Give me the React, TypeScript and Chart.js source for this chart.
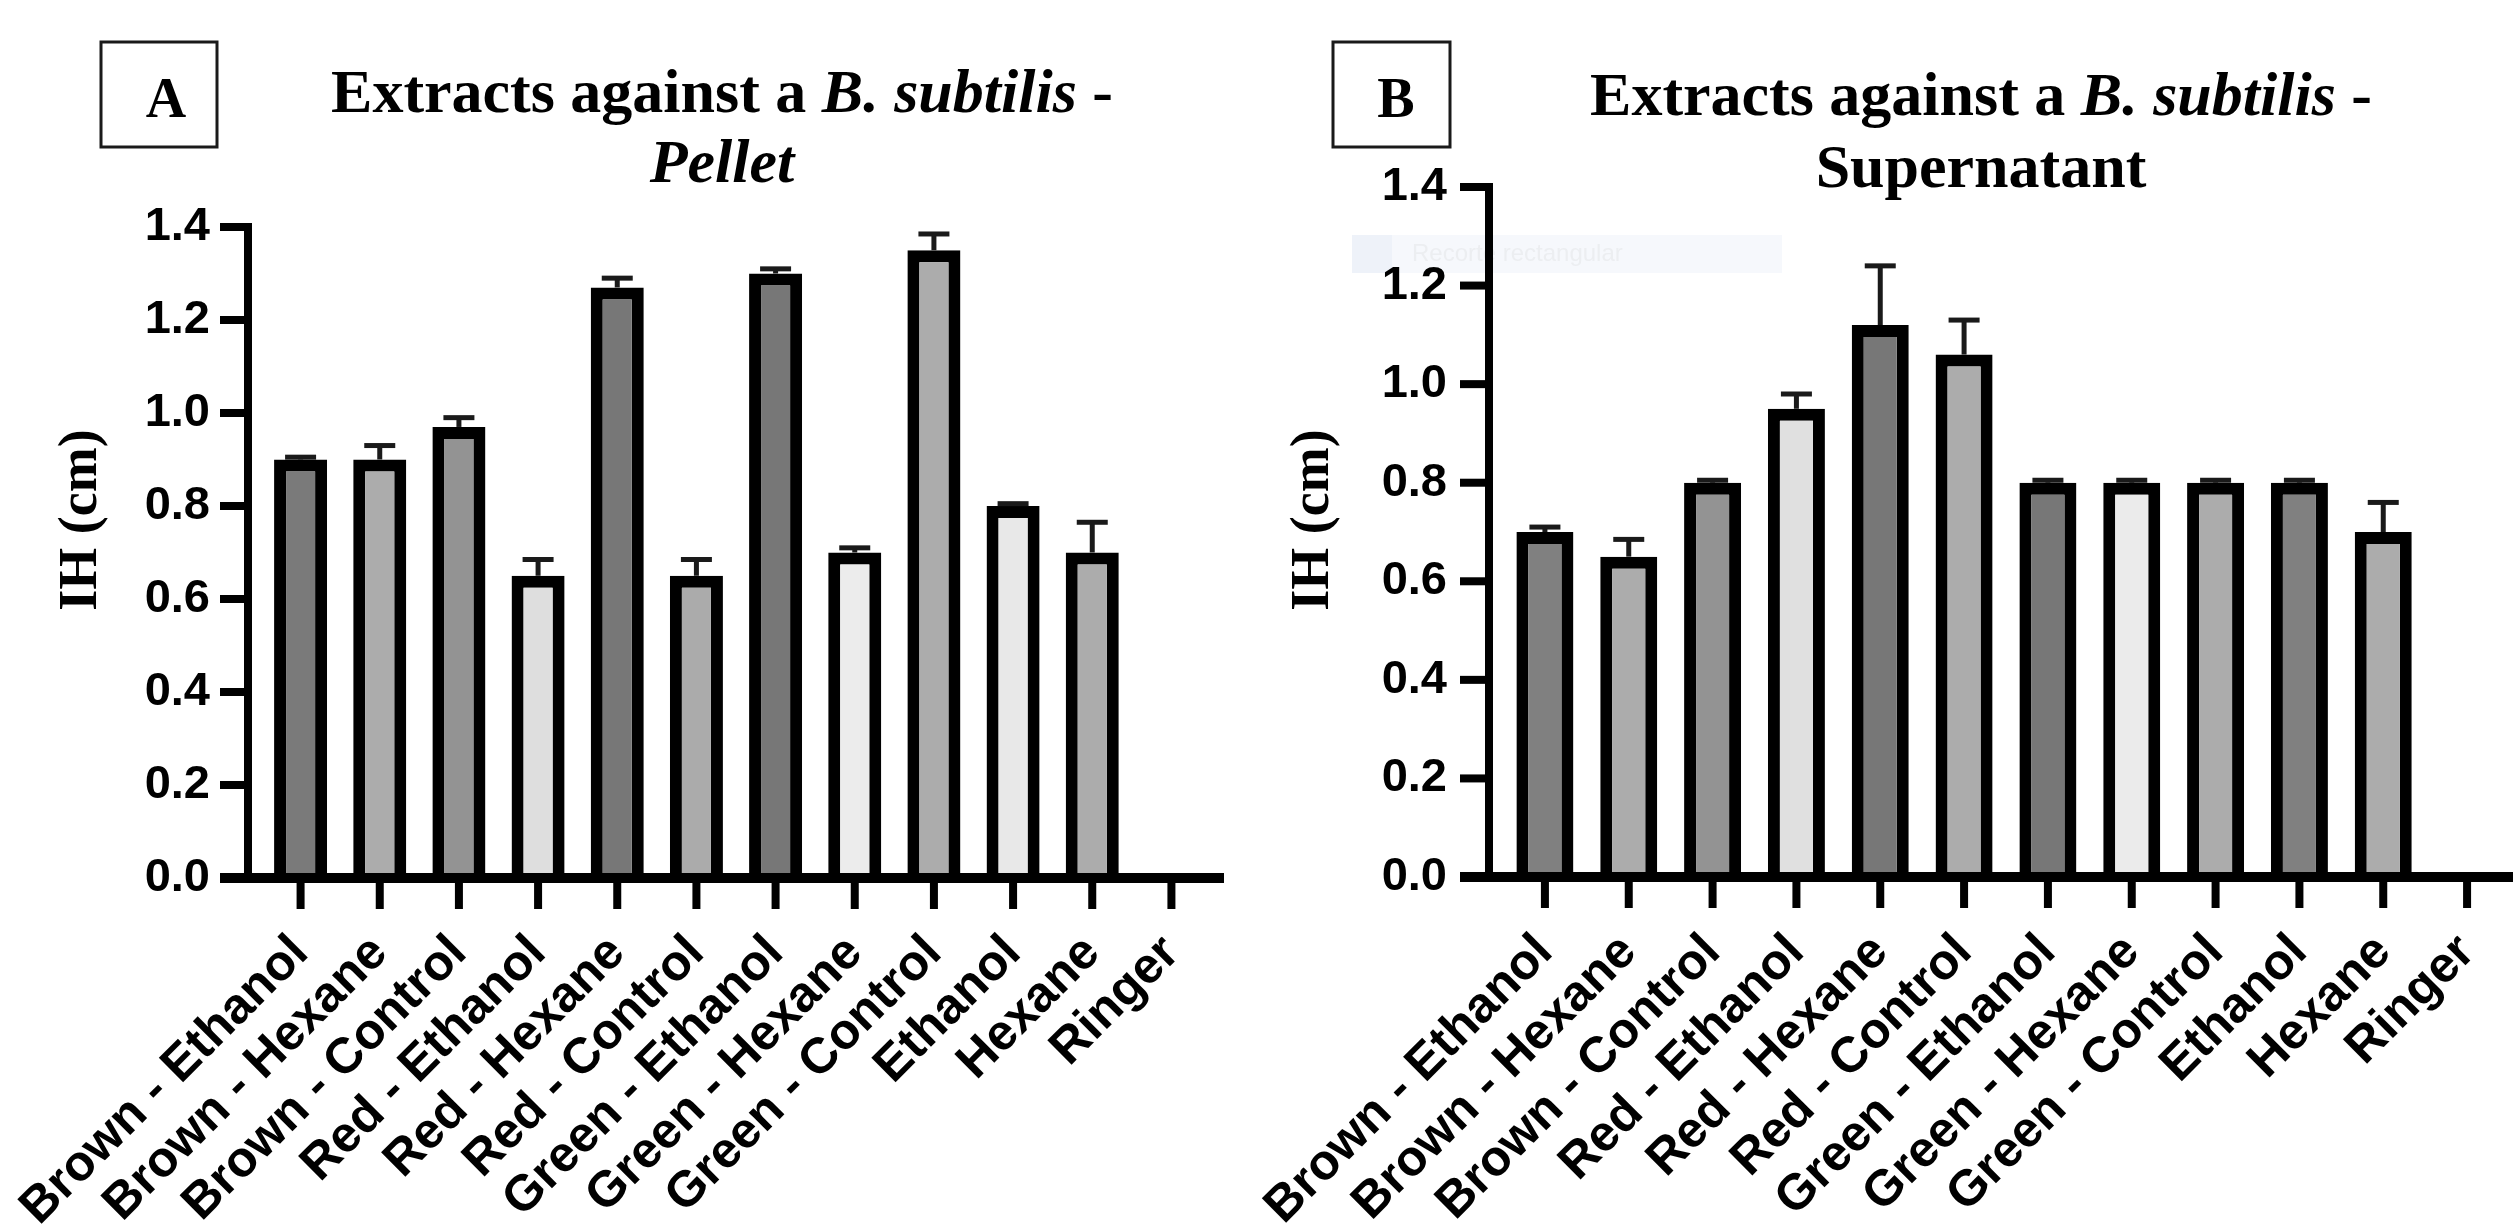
import { useEffect, useRef } from 'react';
import { Chart, registerables } from 'chart.js';

Chart.register(...registerables);

// ---------- data ----------
const categories = [
  'Brown - Ethanol',
  'Brown - Hexane',
  'Brown - Control',
  'Red - Ethanol',
  'Red - Hexane',
  'Red - Control',
  'Green - Ethanol',
  'Green - Hexane',
  'Green - Control',
  'Ethanol',
  'Hexane',
  'Ringer',
];

const pelletValues = [0.9, 0.9, 0.97, 0.65, 1.27, 0.65, 1.3, 0.7, 1.35, 0.8, 0.7, null];
const pelletErrors = [0.005, 0.03, 0.02, 0.035, 0.02, 0.035, 0.01, 0.01, 0.035, 0.005, 0.065, null];
const pelletColors = ['#7a7a7a', '#acacac', '#939393', '#dedede', '#777777', '#ababab', '#777777', '#ececec', '#acacac', '#e8e8e8', '#acacac', '#acacac'];

const supernatantValues = [0.7, 0.65, 0.8, 0.95, 1.12, 1.06, 0.8, 0.8, 0.8, 0.8, 0.7, null];
const supernatantErrors = [0.01, 0.035, 0.005, 0.03, 0.12, 0.07, 0.005, 0.005, 0.005, 0.005, 0.06, null];
const supernatantColors = ['#808080', '#acacac', '#939393', '#e0e0e0', '#777777', '#acacac', '#777777', '#ebebeb', '#acacac', '#808080', '#acacac', '#acacac'];

const yTicksMin = 0;
const yTicksMax = 1.4;
const yTickStep = 0.2;
const yAxisTitle = 'IH (cm)';

const titleA1 = [
  { text: 'Extracts against a ', italic: false },
  { text: 'B. subtilis', italic: true },
  { text: ' -', italic: false },
];
const titleA2 = [{ text: 'Pellet', italic: true }];
const titleB1 = titleA1;
const titleB2 = [{ text: 'Supernatant', italic: false }];

const SERIF = '"Liberation Serif", "Times New Roman", serif';
const SANS = '"Liberation Sans", Arial, sans-serif';

type Part = { text: string; italic: boolean };

type Panel = {
  letter: string;
  line1: Part[];
  line2: Part[];
  values: (number | null)[];
  errors: (number | null)[];
  colors: string[];
  W: number;
  H: number;
  areaLeft: number;
  areaRight: number;
  areaTop: number;
  areaBottom: number;
  yAxisX: number;
  yTickStart: number;
  xAxisEnd: number;
  yLabelPad: number;
  barPct: number;
  titleCx: number;
  base1: number;
  base2: number;
  box: [number, number, number, number];
  letterCx: number;
  letterBase: number;
  yTitleX: number;
  yTitleY: number;
  faint?: [number, number, number, number];
};

const panelA: Panel = {
  letter: 'A',
  line1: titleA1,
  line2: titleA2,
  values: pelletValues,
  errors: pelletErrors,
  colors: pelletColors,
  W: 1256,
  H: 1225,
  areaLeft: 261,
  areaRight: 1211,
  areaTop: 227,
  areaBottom: 878,
  yAxisX: 248,
  yTickStart: 220,
  xAxisEnd: 1224,
  yLabelPad: 51,
  barPct: 0.67,
  titleCx: 722,
  base1: 112,
  base2: 182,
  box: [101, 42, 116, 105],
  letterCx: 166,
  letterBase: 117,
  yTitleX: 96,
  yTitleY: 520,
};

const panelB: Panel = {
  letter: 'B',
  line1: titleB1,
  line2: titleB2,
  values: supernatantValues,
  errors: supernatantErrors,
  colors: supernatantColors,
  W: 1257,
  H: 1225,
  areaLeft: 247,
  areaRight: 1253,
  areaTop: 187,
  areaBottom: 877,
  yAxisX: 233,
  yTickStart: 204,
  xAxisEnd: 1257,
  yLabelPad: 56,
  barPct: 0.68,
  titleCx: 725,
  base1: 115,
  base2: 187,
  box: [77, 42, 117, 105],
  letterCx: 140,
  letterBase: 117,
  yTitleX: 72,
  yTitleY: 520,
  faint: [96, 235, 430, 38],
};

function drawRich(ctx: CanvasRenderingContext2D, parts: Part[], cx: number, base: number, size: number) {
  const fonts = parts.map((p) => `${p.italic ? 'italic ' : ''}bold ${size}px ${SERIF}`);
  let total = 0;
  const widths = parts.map((p, i) => {
    ctx.font = fonts[i];
    const w = ctx.measureText(p.text).width;
    total += w;
    return w;
  });
  let x = cx - total / 2;
  ctx.textAlign = 'left';
  ctx.textBaseline = 'alphabetic';
  ctx.fillStyle = '#000';
  parts.forEach((p, i) => {
    ctx.font = fonts[i];
    ctx.fillText(p.text, x, base);
    x += widths[i];
  });
}

function makeDecor(p: Panel) {
  return {
    id: 'decor' + p.letter,
    beforeDraw(chart: any) {
      if (!p.faint) return;
      const ctx = chart.ctx as CanvasRenderingContext2D;
      const [fx, fy, fw, fh] = p.faint;
      ctx.save();
      ctx.fillStyle = '#f6f8fc';
      ctx.fillRect(fx, fy, fw, fh);
      ctx.fillStyle = '#eef2f9';
      ctx.fillRect(fx, fy, 40, fh);
      ctx.fillStyle = '#eceef1';
      ctx.font = `24px ${SANS}`;
      ctx.textBaseline = 'middle';
      ctx.fillText('Recorte rectangular', fx + 60, fy + fh / 2);
      ctx.restore();
    },
    afterDatasetsDraw(chart: any) {
      const ctx = chart.ctx as CanvasRenderingContext2D;
      const xs = chart.scales.x;
      const ys = chart.scales.y;
      const meta = chart.getDatasetMeta(0);
      ctx.save();
      // error bars (upper only)
      ctx.strokeStyle = '#1a1a1a';
      ctx.lineWidth = 5;
      ctx.lineCap = 'butt';
      p.values.forEach((v, i) => {
        const e = p.errors[i];
        if (v == null || e == null) return;
        const el = meta.data[i];
        const x = el.x;
        const y0 = ys.getPixelForValue(v);
        const y1 = ys.getPixelForValue(v + e);
        ctx.beginPath();
        ctx.moveTo(x, y0);
        ctx.lineTo(x, y1);
        ctx.stroke();
        ctx.beginPath();
        ctx.moveTo(x - 15.5, y1);
        ctx.lineTo(x + 15.5, y1);
        ctx.stroke();
      });
      // axes
      ctx.fillStyle = '#000';
      const top = ys.getPixelForValue(yTicksMax);
      const bottom = ys.getPixelForValue(yTicksMin);
      ctx.fillRect(p.yAxisX - 4, top - 4, 8, bottom - top + 8);
      ys.ticks.forEach((t: any) => {
        const py = ys.getPixelForValue(t.value);
        ctx.fillRect(p.yTickStart, py - 4, p.yAxisX - p.yTickStart, 8);
      });
      ctx.fillRect(p.yTickStart, bottom - 5, p.xAxisEnd - p.yTickStart, 10);
      categories.forEach((_, i) => {
        const px = xs.getPixelForValue(i);
        ctx.fillRect(px - 4, bottom, 8, 31);
      });
      ctx.restore();
    },
    afterDraw(chart: any) {
      const ctx = chart.ctx as CanvasRenderingContext2D;
      ctx.save();
      drawRich(ctx, p.line1, p.titleCx, p.base1, 62);
      drawRich(ctx, p.line2, p.titleCx, p.base2, 62);
      // letter box
      ctx.strokeStyle = '#1a1a1a';
      ctx.lineWidth = 3;
      const [bx, by, bw, bh] = p.box;
      ctx.strokeRect(bx, by, bw, bh);
      ctx.fillStyle = '#000';
      ctx.font = `bold 56px ${SERIF}`;
      ctx.textAlign = 'center';
      ctx.textBaseline = 'alphabetic';
      ctx.fillText(p.letter, p.letterCx, p.letterBase);
      // y title
      ctx.translate(p.yTitleX, p.yTitleY);
      ctx.rotate(-Math.PI / 2);
      ctx.font = `bold 54px ${SERIF}`;
      ctx.textAlign = 'center';
      ctx.fillText(yAxisTitle, 0, 0);
      ctx.restore();
    },
  };
}

function makeChart(canvas: HTMLCanvasElement, p: Panel) {
  return new Chart(canvas, {
    type: 'bar',
    data: {
      labels: categories,
      datasets: [
        {
          data: p.values as any,
          backgroundColor: p.colors,
          borderColor: '#000',
          borderWidth: 12,
          borderSkipped: 'start',
          barPercentage: p.barPct,
          categoryPercentage: 1,
        },
      ],
    },
    options: {
      responsive: false,
      animation: false,
      devicePixelRatio: 1,
      layout: {
        padding: { left: 0, right: p.W - p.areaRight, top: p.areaTop, bottom: 0 },
      },
      plugins: {
        legend: { display: false },
        tooltip: { enabled: false },
        title: { display: false },
      },
      scales: {
        x: {
          type: 'category',
          offset: true,
          grid: { display: false, drawTicks: false },
          border: { display: false },
          ticks: {
            autoSkip: false,
            minRotation: 45,
            maxRotation: 45,
            padding: 46,
            color: '#000',
            font: { family: SANS, size: 50, weight: 'bold' },
          },
          afterFit(s: any) {
            s.height = p.H - p.areaBottom;
            s.paddingLeft = 0;
            s.paddingRight = 0;
          },
        },
        y: {
          min: yTicksMin,
          max: yTicksMax,
          grid: { display: false, drawTicks: false },
          border: { display: false },
          ticks: {
            stepSize: yTickStep,
            padding: p.yLabelPad,
            color: '#000',
            font: { family: SANS, size: 47, weight: 'bold' },
            callback: (v: any) => Number(v).toFixed(1),
          },
          afterFit(s: any) {
            s.width = p.areaLeft;
            s.paddingTop = 0;
            s.paddingBottom = 0;
          },
        },
      },
    },
    plugins: [makeDecor(p)],
  } as any);
}

export default function App() {
  const refA = useRef<HTMLCanvasElement>(null);
  const refB = useRef<HTMLCanvasElement>(null);
  useEffect(() => {
    const a = makeChart(refA.current!, panelA);
    const b = makeChart(refB.current!, panelB);
    return () => {
      a.destroy();
      b.destroy();
    };
  }, []);
  return (
    <div style={{ position: 'fixed', left: 0, top: 0, width: 2513, height: 1225, background: '#fff', overflow: 'hidden' }}>
      <canvas
        ref={refA}
        width={panelA.W}
        height={panelA.H}
        style={{ position: 'absolute', left: 0, top: 0, width: panelA.W, height: panelA.H }}
      />
      <canvas
        ref={refB}
        width={panelB.W}
        height={panelB.H}
        style={{ position: 'absolute', left: panelA.W, top: 0, width: panelB.W, height: panelB.H }}
      />
    </div>
  );
}
